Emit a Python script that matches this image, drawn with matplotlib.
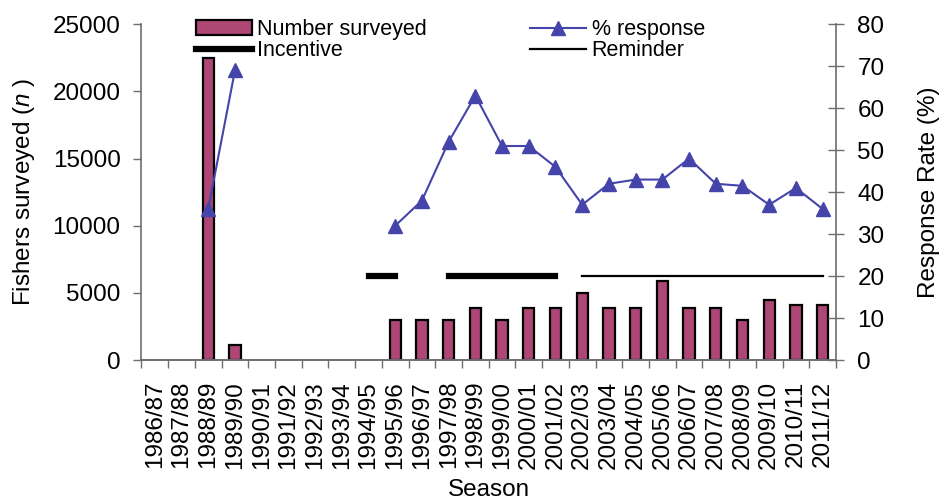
import numpy as np
import matplotlib
matplotlib.use("Agg")
import matplotlib.pyplot as plt

plt.rcParams['font.family'] = ['Liberation Sans', 'DejaVu Sans']
plt.rcParams['mathtext.fontset'] = 'custom'
plt.rcParams['mathtext.rm'] = 'Liberation Sans'
plt.rcParams['mathtext.it'] = 'Liberation Sans:italic'

seasons = ["1986/87", "1987/88", "1988/89", "1989/90", "1990/91", "1991/92",
           "1992/93", "1993/94", "1994/95", "1995/96", "1996/97", "1997/98",
           "1998/99", "1999/00", "2000/01", "2001/02", "2002/03", "2003/04",
           "2004/05", "2005/06", "2006/07", "2007/08", "2008/09", "2009/10",
           "2010/11", "2011/12"]

nan = np.nan
# seasons with no survey are left empty (nan)
number_surveyed = [nan, nan, 22500, 1100, nan, nan, nan, nan, nan, 3000, 3000,
                   3000, 3900, 3000, 3900, 3900, 5000, 3900, 3900, 5900, 3900,
                   3900, 3000, 4500, 4100, 4100]
response_pct = [nan, nan, 36, 69, nan, nan, nan, nan, nan, 32, 38, 52,
                63, 51, 51, 46, 37, 42, 43, 43, 48, 42, 41.5, 37, 41, 36]
incentive = [nan, nan, nan, nan, nan, nan, nan, nan, 20, 20, nan, 20,
             20, 20, 20, 20, nan, nan, nan, nan, nan, nan, nan, nan, nan, nan]
reminder = [nan] * 16 + [20] * 10

bar_color = '#AE4676'
line_color = '#4444AA'
spine_color = '#6E6E6E'

x = np.arange(len(seasons))

fig = plt.figure(figsize=(9.43, 5.01), dpi=100)
ax = fig.add_axes([0.1500, 0.2814, 0.7365, 0.6701])
ax2 = ax.twinx()

bars = ax.bar(x, number_surveyed, width=0.42, color=bar_color,
              edgecolor='black', linewidth=1.6, label='Number surveyed')
ax.set_xlim(-0.5, len(seasons) - 0.5)
ax.set_ylim(0, 25000)
ax.set_yticks(np.arange(0, 25001, 5000))

ln_resp, = ax2.plot(x, response_pct, color=line_color, lw=1.5, marker='^',
                    markersize=10, label='% response')
ln_inc, = ax2.plot(x, incentive, color='black', lw=4.5,
                   solid_capstyle='projecting', label='Incentive')
ln_rem, = ax2.plot(x, reminder, color='black', lw=1.6, label='Reminder')
ax2.set_ylim(0, 80)
ax2.set_yticks(np.arange(0, 81, 10))

# category labels at centres, tick marks at category boundaries
ax.set_xticks(x)
ax.set_xticklabels(seasons, rotation=90, fontsize=17.5)
ax.set_xticks(np.arange(-0.5, len(seasons)), minor=True)
ax.tick_params(axis='x', which='major', length=0, pad=15)
ax.tick_params(axis='x', which='minor', length=6, width=1, color=spine_color,
               direction='out')
ax.tick_params(axis='y', labelsize=17.5, length=6, width=1, color=spine_color,
               pad=9)
ax2.tick_params(axis='y', labelsize=17.5, direction='inout', length=11,
                width=1, color=spine_color, pad=10)

for a in (ax, ax2):
    a.spines['top'].set_visible(False)
    for s in ('left', 'right', 'bottom'):
        a.spines[s].set_color(spine_color)
        a.spines[s].set_linewidth(1.2)
ax.spines['right'].set_visible(False)
ax2.spines['left'].set_visible(False)

ax.set_ylabel('Fishers surveyed ($\\it{n}$ )', fontsize=17.5, labelpad=11)
ax2.set_ylabel('Response Rate (%)', fontsize=17.5, labelpad=24)
ax.set_xlabel('Season', fontsize=17.5, labelpad=7)

handles = [bars, ln_inc, ln_resp, ln_rem]
labels = [h.get_label() for h in handles]
ax2.legend(handles, labels, ncol=2, frameon=False, fontsize=15.5,
           loc='upper left', bbox_to_anchor=(0.066, 1.04),
           handlelength=2.6, handletextpad=0.25, columnspacing=4.8,
           labelspacing=-0.02, borderaxespad=0)

fig.savefig('out.png', dpi=100)
